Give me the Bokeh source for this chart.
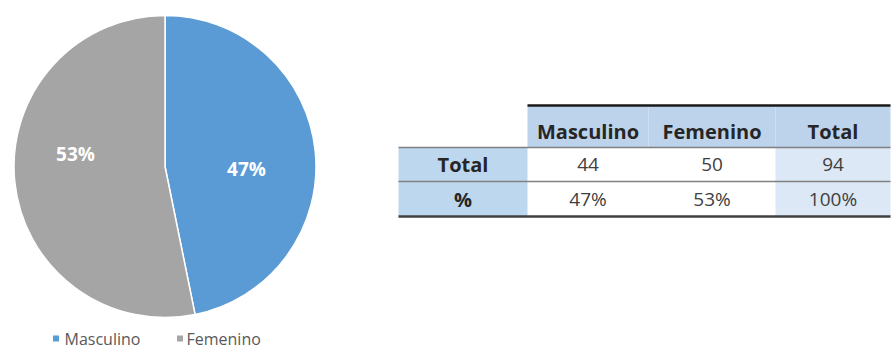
import math
from bokeh.plotting import figure
from bokeh.models import Range1d, ColumnDataSource
from bokeh.core.properties import value
from bokeh.embed import file_html
from bokeh.resources import INLINE

# ---- data ----
categories = ["Masculino", "Femenino"]
counts = [44, 50]
pct_labels = ["47%", "53%"]
slice_colors = ["#5b9bd5", "#a5a5a5"]

col_headers = ["Masculino", "Femenino", "Total"]
row_headers = ["Total", "%"]
row_total = ["44", "50", "94"]
row_pct = ["47%", "53%", "100%"]

W, H = 892, 349
FONT = "Open Sans"

def Y(py):
    return H - py

p = figure(width=W, height=H, x_range=Range1d(0, W), y_range=Range1d(0, H),
           output_backend="svg", toolbar_location=None, min_border=0)
p.axis.visible = False
p.grid.visible = False
p.outline_line_color = None
p.background_fill_color = "white"

# ---- pie ----
cx, cy, r = 164.5, Y(166), 151
total = sum(counts)
starts, ends = [], []
a = math.pi / 2
for c in counts:
    starts.append(a)
    a = a - 2 * math.pi * c / total
    ends.append(a)
src = ColumnDataSource(dict(start=starts, end=ends, color=slice_colors, name=categories))
p.wedge(x=cx, y=cy, radius=r, start_angle="start", end_angle="end", direction="clock",
        fill_color="color", line_color="white", line_width=1.5, source=src)

label_pos = [(246, 168), (75, 153)]
p.text(x=[lp[0] for lp in label_pos], y=[Y(lp[1]) for lp in label_pos], text=pct_labels,
       text_color="white", text_font=value(FONT), text_font_style="bold",
       text_font_size="19px", text_align="center", text_baseline="middle")

# ---- legend ----
leg_sq_x = [55.5, 179.5]
leg_tx_x = [64, 186]
leg_y = 338
p.rect(x=leg_sq_x, y=[Y(leg_y)] * 2, width=6, height=6, fill_color=slice_colors, line_color=None)
p.text(x=leg_tx_x, y=[Y(leg_y)] * 2, text=categories, text_color="#595959",
       text_font=value(FONT), text_font_size="16px", text_baseline="middle")

# ---- table ----
col_edges = [398, 527, 648, 775, 890]
row_edges = [105, 147, 181, 216]
hdr_fill = "#bdd3eb"
lbl_fill = "#bdd7ee"
tot_fill = "#dce8f5"

# fills
qx0, qx1, qy0, qy1, qc = [], [], [], [], []
def cell(ci, ri, color):
    qx0.append(col_edges[ci]); qx1.append(col_edges[ci + 1])
    qy0.append(Y(row_edges[ri + 1])); qy1.append(Y(row_edges[ri])); qc.append(color)
for ci in range(1, 4):
    cell(ci, 0, hdr_fill)
for ri in range(1, 3):
    cell(0, ri, lbl_fill)
    cell(3, ri, tot_fill)
p.quad(left=qx0, right=qx1, bottom=qy0, top=qy1, fill_color=qc, line_color=None)

# rules
p.segment(x0=[col_edges[1]], y0=[Y(row_edges[0])], x1=[col_edges[4]], y1=[Y(row_edges[0])],
          line_color="#1a1a1a", line_width=2.5)
p.segment(x0=[col_edges[0]] * 2, y0=[Y(row_edges[1]), Y(row_edges[2])],
          x1=[col_edges[4]] * 2, y1=[Y(row_edges[1]), Y(row_edges[2])],
          line_color="#808080", line_width=1.5)
p.segment(x0=[col_edges[0]], y0=[Y(row_edges[3])], x1=[col_edges[4]], y1=[Y(row_edges[3])],
          line_color="#404040", line_width=2.5)

def mid(edges, i):
    return (edges[i] + edges[i + 1]) / 2

# header texts
p.text(x=[mid(col_edges, i) for i in range(1, 4)], y=[Y(mid(row_edges, 0) + 5)] * 3,
       text=col_headers, text_color="#262626", text_font=value(FONT), text_font_style="bold",
       text_font_size="20px", text_align="center", text_baseline="middle")
# row labels
p.text(x=[mid(col_edges, 0)] * 2, y=[Y(mid(row_edges, 1)), Y(mid(row_edges, 2))],
       text=row_headers, text_color="#262626", text_font=value(FONT), text_font_style="bold",
       text_font_size="20px", text_align="center", text_baseline="middle")
# values
vals = row_total + row_pct
vx = [mid(col_edges, i) for i in range(1, 4)] * 2
vy = [Y(mid(row_edges, 1))] * 3 + [Y(mid(row_edges, 2))] * 3
p.text(x=vx, y=vy, text=vals, text_color="#404040", text_font=value(FONT),
       text_font_size="19px", text_align="center", text_baseline="middle")

open("out.html", "w").write(file_html(p, INLINE))
